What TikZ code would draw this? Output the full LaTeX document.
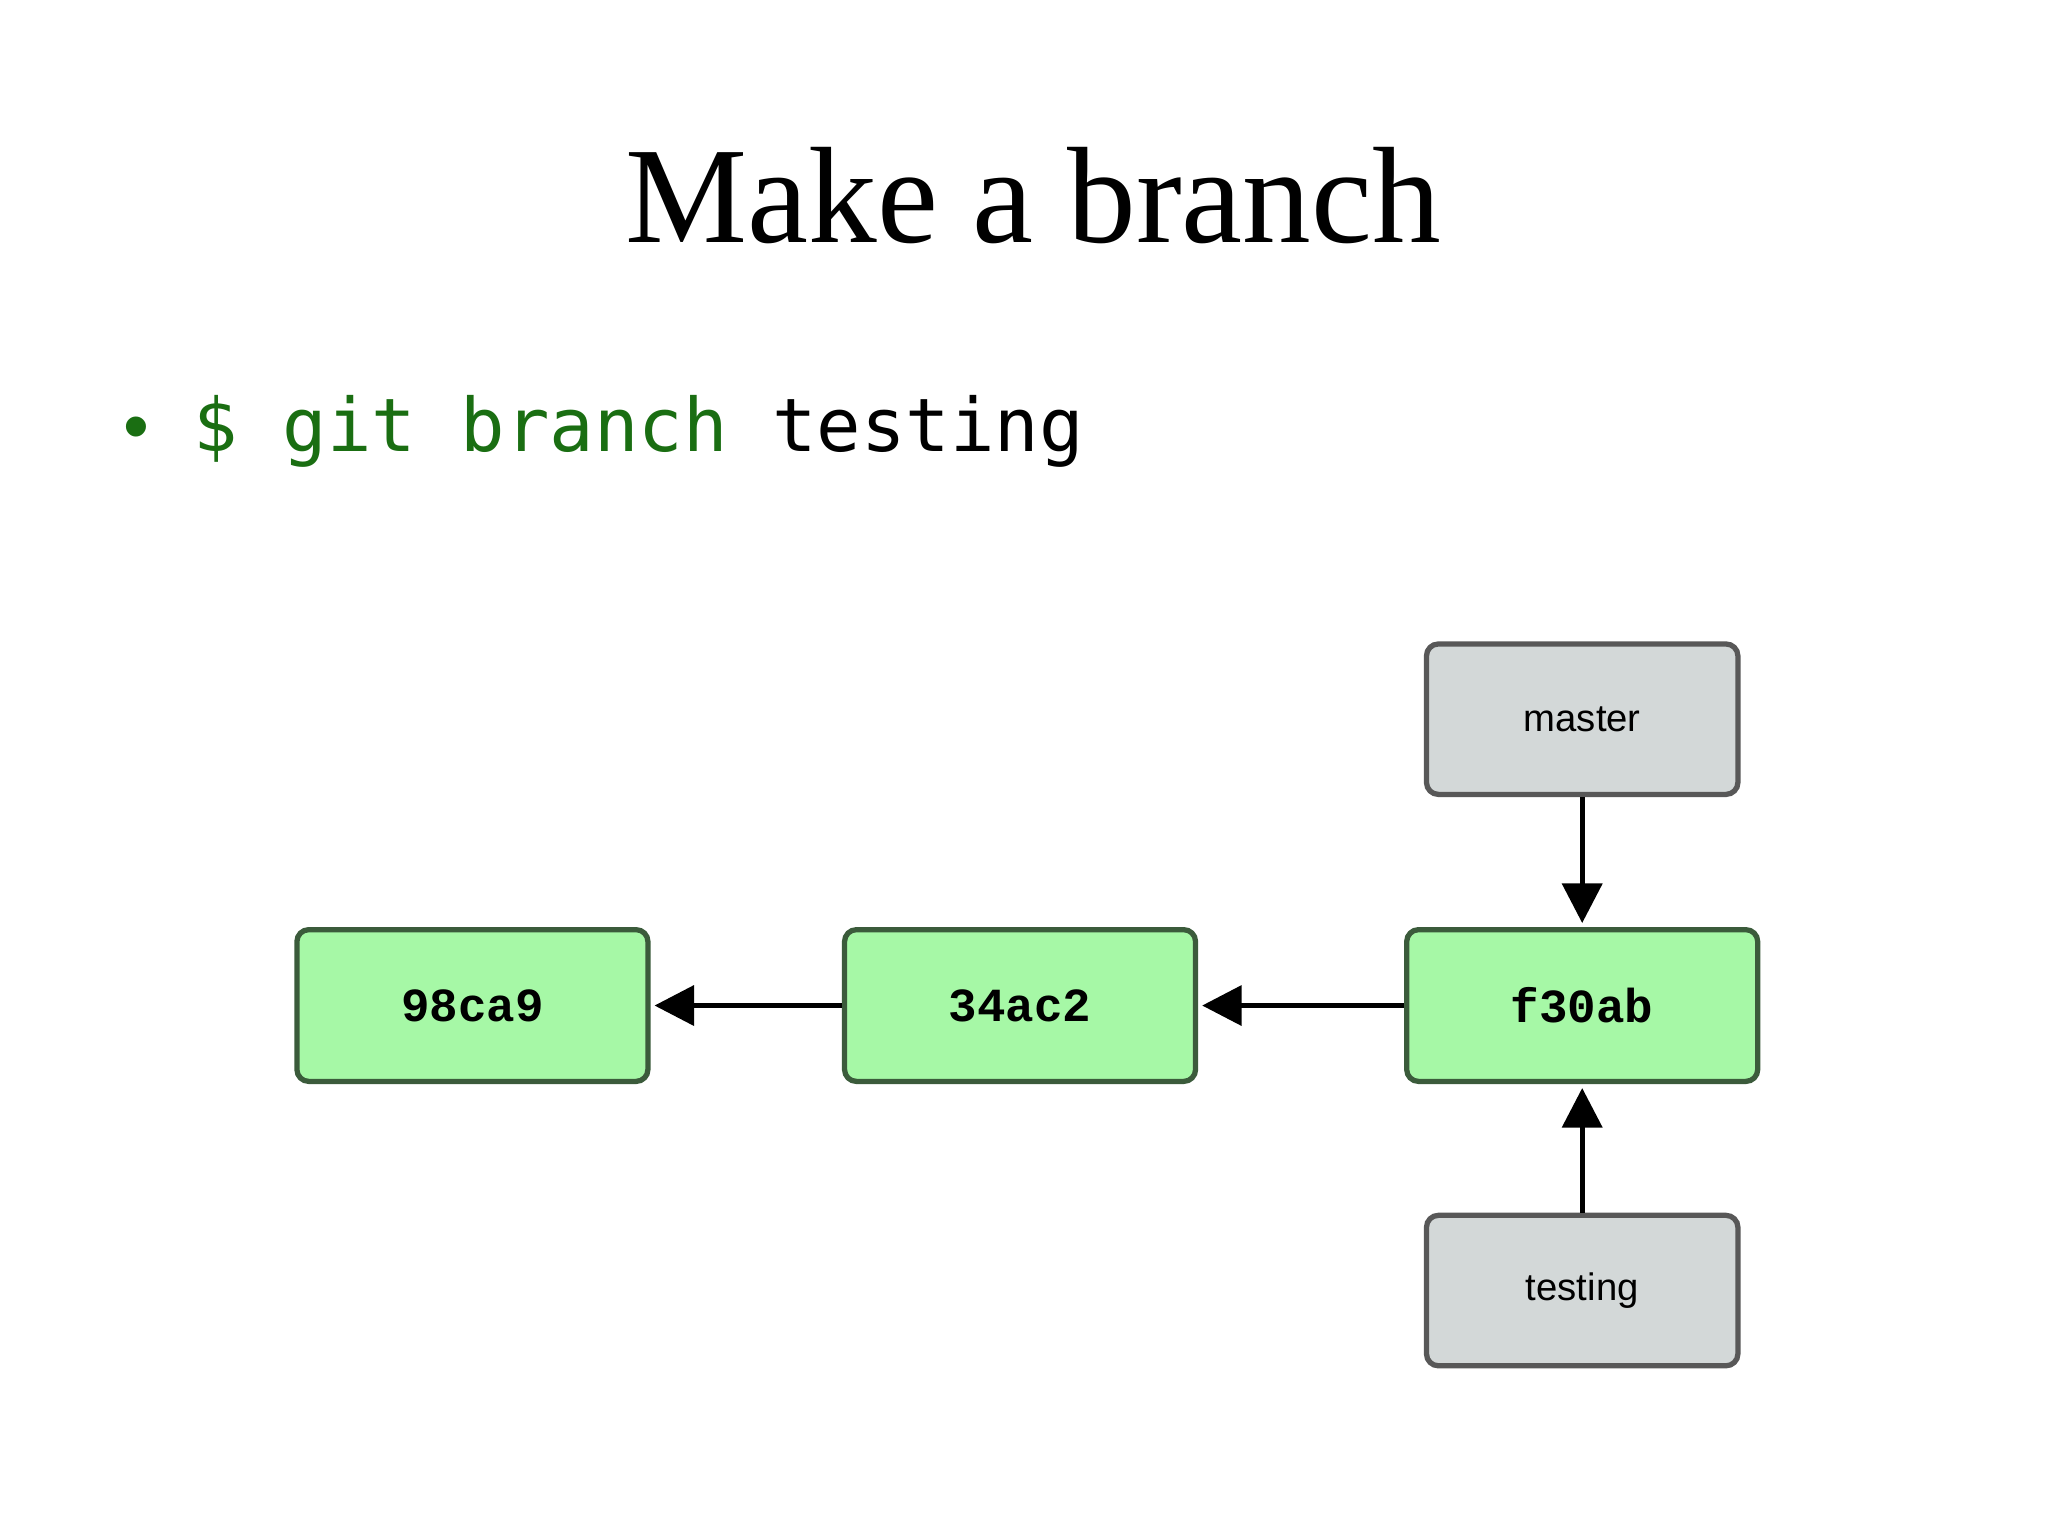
\documentclass[tikz,border=0pt]{standalone}
\usepackage{fontspec}
\setmainfont{Liberation Serif}
\newfontfamily\monof{DejaVu Sans Mono}
\newfontfamily\courf{Liberation Mono}
\newfontfamily\sansf{Liberation Sans}
\usetikzlibrary{arrows.meta}
\definecolor{cgreen}{HTML}{A6F8A6}
\definecolor{cgreenb}{HTML}{3B5B3B}
\definecolor{cgray}{HTML}{D3D8D8}
\definecolor{cgrayb}{HTML}{585858}
\definecolor{cmd}{HTML}{1A6E12}
\begin{document}
\begin{tikzpicture}[x=1pt,y=-1pt,
  commit/.style={draw=cgreenb,fill=cgreen,line width=4pt,rounded corners=9pt,minimum width=266pt,minimum height=115pt,font=\courf\fontsize{36}{40}\selectfont\bfseries},
  ref/.style={draw=cgrayb,fill=cgray,line width=4pt,rounded corners=9pt,minimum width=236pt,minimum height=114pt,font=\sansf\fontsize{29}{32}\selectfont},
  arr/.style={line width=4pt,-{Triangle[length=30pt,width=30pt]},shorten >=3pt}]
\useasboundingbox (0,0) rectangle (1552,1164);
\node[font=\fontsize{104}{110}\selectfont] (title) at (783,148) {Make a branch};
\node[anchor=base west,font=\monof\fontsize{56}{60}\selectfont] (cmdl) at (90,342) {\textcolor{cmd}{\sansf•} \textcolor{cmd}{\$ git branch} testing};
\node[commit] (a) at (358,762) {98ca9};
\node[commit] (b) at (773,762) {34ac2};
\node[commit] (c) at (1199,762) {f30ab};
\node[ref] (m) at (1199,545) {master};
\node[ref] (t) at (1199,978) {testing};
\draw[arr] (b) -- (a);
\draw[arr] (c) -- (b);
\draw[arr] (m) -- (c);
\draw[arr] (t) -- (c);
\end{tikzpicture}
\end{document}
